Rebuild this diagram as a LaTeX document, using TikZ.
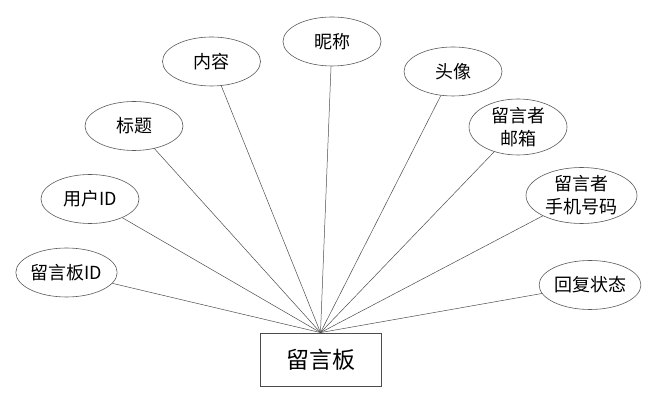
\documentclass[tikz,border=0pt]{standalone}
\usepackage{fontspec}
\newfontfamily\cjk{Noto Sans CJK SC}
\tikzset{
  attr/.style={ellipse,draw=black!65,line width=0.6pt,inner sep=0pt,minimum width=98pt,minimum height=49pt,align=center,font=\cjk\fontsize{18}{23}\selectfont},
  entity/.style={rectangle,draw=black!70,line width=0.8pt,minimum width=121pt,minimum height=53pt,font=\cjk\fontsize{23}{26}\selectfont},
  link/.style={black!70,line width=0.5pt}
}
\usetikzlibrary{shapes.geometric}
\begin{document}
\begin{tikzpicture}[x=1pt,y=1pt]
  \useasboundingbox (0,0) rectangle (652,406);
  \node [entity] (board) at (320.5,46.5) {留言板};
  \node [attr] (boardid) at (66.5,133.5) {留言板ID};
  \node [attr] (userid) at (90,207) {用户ID};
  \node [attr] (title) at (134,280) {标题};
  \node [attr] (content) at (211.5,344.5) {内容};
  \node [attr] (nick) at (332,364.5) {昵称};
  \node [attr] (avatar) at (453,334.5) {头像};
  \node [attr,minimum height=50pt] (mail) at (518,279) {留言者\\邮箱};
  \node [attr,minimum width=111pt,minimum height=55pt] (phone) at (581.5,210.5) {留言者\\手机号码};
  \node [attr] (reply) at (590,121) {回复状态};
  \draw [link] (board.north) -- (boardid);
  \draw [link] (board.north) -- (userid);
  \draw [link] (board.north) -- (title);
  \draw [link] (board.north) -- (content);
  \draw [link] (board.north) -- (nick);
  \draw [link] (board.north) -- (avatar);
  \draw [link] (board.north) -- (mail);
  \draw [link] (board.north) -- (phone);
  \draw [link] (board.north) -- (reply);
\end{tikzpicture}
\end{document}
